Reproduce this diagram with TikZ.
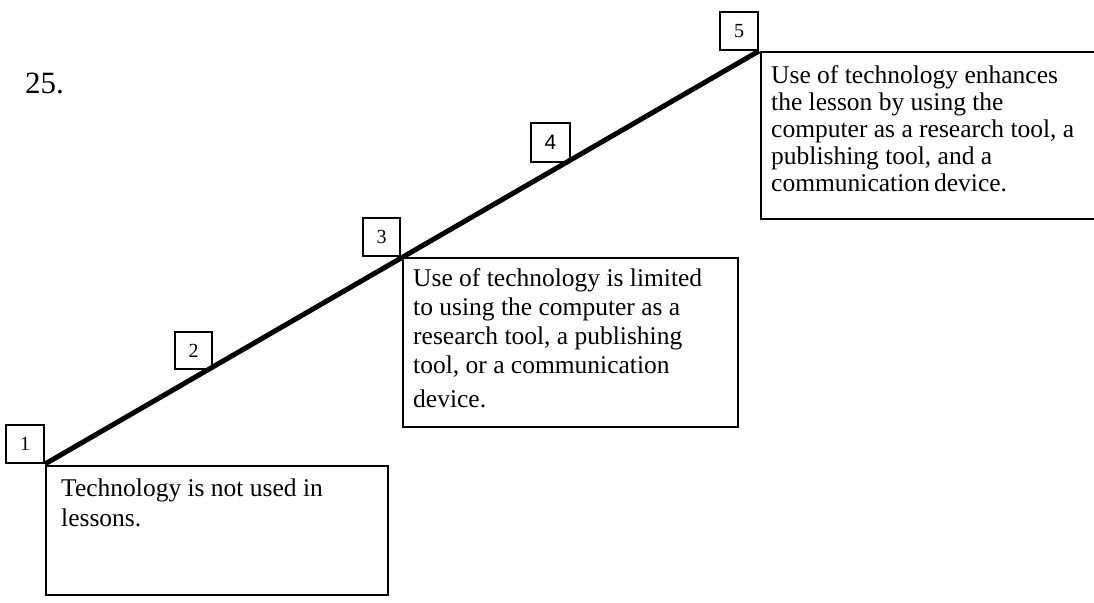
\documentclass[tikz,border=0pt]{standalone}
\usepackage{fontspec}
\setmainfont{Liberation Serif}
\newfontfamily\numsans{Liberation Sans}
\begin{document}
\begin{tikzpicture}[x=1pt,y=-1pt,
  numbox/.style={draw=black,line width=2pt,minimum width=38pt,minimum height=38pt,
    inner sep=0pt,anchor=south east,font=\fontsize{20}{24}\selectfont},
  descbox/.style={draw=black,line width=2pt,anchor=north west,inner sep=0pt},
  desctext/.style={anchor=base west,inner sep=0pt},
  stair/.style={line width=5pt,line cap=butt}]
  \useasboundingbox (0,0) rectangle (1094,602);
  \clip (0,0) rectangle (1094,602);

  % item number
  \node[anchor=base west,inner sep=0pt,font=\fontsize{31}{36}\selectfont] (title) at (25,93) {25.};

  % description boxes
  \node[descbox,minimum width=342pt,minimum height=129pt] (d1) at (45,465) {};
  \node[descbox,minimum width=335pt,minimum height=169pt] (d3) at (402,257) {};
  \node[descbox,minimum width=340pt,minimum height=167pt] (d5) at (760,51) {};

  \node[desctext] (t1) at (61,496) {\parbox[t]{320pt}{\fontsize{25.5}{30}\selectfont
    Technology is not used in\\lessons.}};
  \node[desctext] (t3) at (413,286) {\parbox[t]{320pt}{\fontsize{25.5}{29}\selectfont
    Use of technology is limited\\to using the computer as a\\research tool, a publishing\\
    tool, or a communication\\[5pt]device.}};
  \node[desctext] (t5) at (771,83) {\parbox[t]{320pt}{\fontsize{25.5}{27}\selectfont
    Use of technology enhances\\the lesson by using the\\computer as a research tool, a\\
    publishing tool, and a\\communication\,device.}};

  % level markers
  \node[numbox] (n1) at (45,464) {1};
  \node[numbox,minimum width=37pt,minimum height=37pt] (n2) at (213,370) {2};
  \node[numbox,minimum width=37pt] (n3) at (401,257) {3};
  \node[numbox,minimum width=39pt,minimum height=39pt,font=\numsans\fontsize{21}{24}\selectfont] (n4) at (571,163) {4};
  \node[numbox] (n5) at (759,51) {5};

  % the staircase line
  \draw[stair] (n1.south east) -- (n5.south east);
\end{tikzpicture}
\end{document}
